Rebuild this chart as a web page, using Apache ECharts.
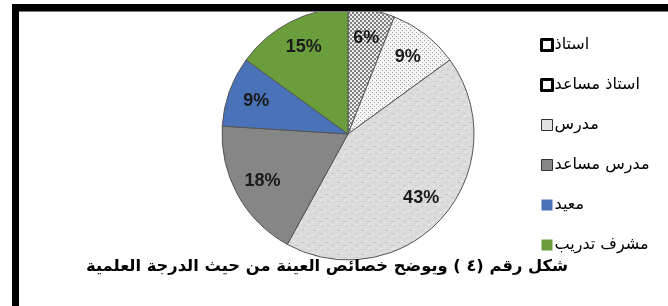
<!DOCTYPE html>
<html>
	<head>
		<meta charset="utf-8">
		<script src="https://cdn.jsdelivr.net/npm/echarts@6/dist/echarts.min.js"></script>
		<style>
			body {margin:0; background:#fff;}
		</style>
	</head>
	<body>
		<div id="main" style="width:668px;height:306px;"></div>
		<script>
			// الدرجة العلمية
			var categories = ['استاذ', 'استاذ مساعد', 'مدرس', 'مدرس مساعد', 'معيد', 'مشرف تدريب'];
			var values = [6, 9, 43, 18, 9, 15];
			var caption = 'شكل رقم (٤ ) ويوضح خصائص العينة من حيث الدرجة العلمية';

			// textures for the grey slices
			function dotPattern(bg, dot, step, size){
				var c = document.createElement('canvas');
				c.width = step; c.height = step;
				var ctx = c.getContext('2d');
				ctx.fillStyle = bg;
				ctx.fillRect(0, 0, step, step);
				ctx.fillStyle = dot;
				ctx.fillRect(0, 0, size, size);
				ctx.fillRect(step/2, step/2, size, size);
				return c;
			}
			function marble(){
				var c = document.createElement('canvas');
				c.width = 12; c.height = 12;
				var ctx = c.getContext('2d');
				ctx.fillStyle = '#dcdcdc';
				ctx.fillRect(0, 0, 12, 12);
				ctx.fillStyle = '#c8c8c8';
				ctx.fillRect(1, 2, 3, 1); ctx.fillRect(7, 5, 3, 1);
				ctx.fillRect(3, 9, 2, 1); ctx.fillRect(9, 10, 2, 1);
				ctx.fillStyle = '#ececec';
				ctx.fillRect(5, 1, 2, 1); ctx.fillRect(0, 6, 2, 1); ctx.fillRect(8, 8, 2, 1);
				return c;
			}
			var fills = [
				{image: dotPattern('#ececec', '#808080', 4, 2), repeat: 'repeat'},
				{image: dotPattern('#f6f6f6', '#a0a0a0', 4, 1), repeat: 'repeat'},
				{image: marble(), repeat: 'repeat'},
				'#868686',
				'#4a72b8',
				'#6a9e3c'
			];
			var legendIcons = [
				{color: '#ffffff', borderColor: '#000', borderWidth: 3},
				{color: '#ffffff', borderColor: '#000', borderWidth: 3},
				{color: '#e2e2e2', borderColor: '#333', borderWidth: 1},
				{color: '#868686', borderColor: '#333', borderWidth: 1},
				{color: '#4a72b8', borderColor: '#4a72b8', borderWidth: 0},
				{color: '#6a9e3c', borderColor: '#6a9e3c', borderWidth: 0}
			];

			var pieData = [], labelData = [], legendData = [];
			for (var i = 0; i < categories.length; i++){
				pieData.push({name: categories[i], value: values[i], itemStyle: {color: fills[i]}});
				labelData.push({name: categories[i], value: values[i]});
				legendData.push({name: categories[i], icon: 'rect', itemStyle: legendIcons[i]});
			}

			var option = {
				animation: false,
				legend: {
					orient: 'vertical',
					left: 535,
					top: 32,
					icon: 'rect',
					itemWidth: 11,
					itemHeight: 11,
					itemGap: 24,
					selectedMode: false,
					data: legendData,
					textStyle: {fontSize: 16, color: '#000', fontFamily: 'DejaVu Sans', padding: [0, 0, 0, -3]}
				},
				series: [
					{
						type: 'pie',
						center: [348, 134],
						radius: [0, 126],
						startAngle: 90,
						silent: true,
						label: {show: false},
						labelLine: {show: false},
						itemStyle: {borderColor: '#555', borderWidth: 1},
						data: pieData
					},
					{
						// transparent ring only used to place the labels at 3/4 radius
						type: 'pie',
						center: [348, 134],
						radius: [63, 126],
						startAngle: 90,
						silent: true,
						legendHoverLink: false,
						itemStyle: {color: 'rgba(0,0,0,0)'},
						label: {
							show: true,
							position: 'inside',
							formatter: '{c}%',
							fontSize: 18,
							fontWeight: 'bold',
							fontFamily: 'Liberation Sans',
							color: '#1a1a1a'
						},
						labelLine: {show: false},
						data: labelData
					}
				],
				graphic: [
					{type: 'rect', z: 100, shape: {x: 12, y: 4, width: 656, height: 7}, style: {fill: '#000'}},
					{type: 'rect', z: 100, shape: {x: 12, y: 11, width: 656, height: 1}, style: {fill: '#777'}},
					{type: 'rect', z: 100, shape: {x: 12, y: 4, width: 7, height: 302}, style: {fill: '#000'}},
					{type: 'text', z: 100, x: 327, y: 267, style: {
						text: caption, fill: '#000', font: 'bold 16.3px "DejaVu Sans"',
						textAlign: 'center', textVerticalAlign: 'middle'
					}}
				]
			};
			var myChart = echarts.init(document.getElementById('main'));
			myChart.setOption(option, true);
		</script>
	</body>
</html>
